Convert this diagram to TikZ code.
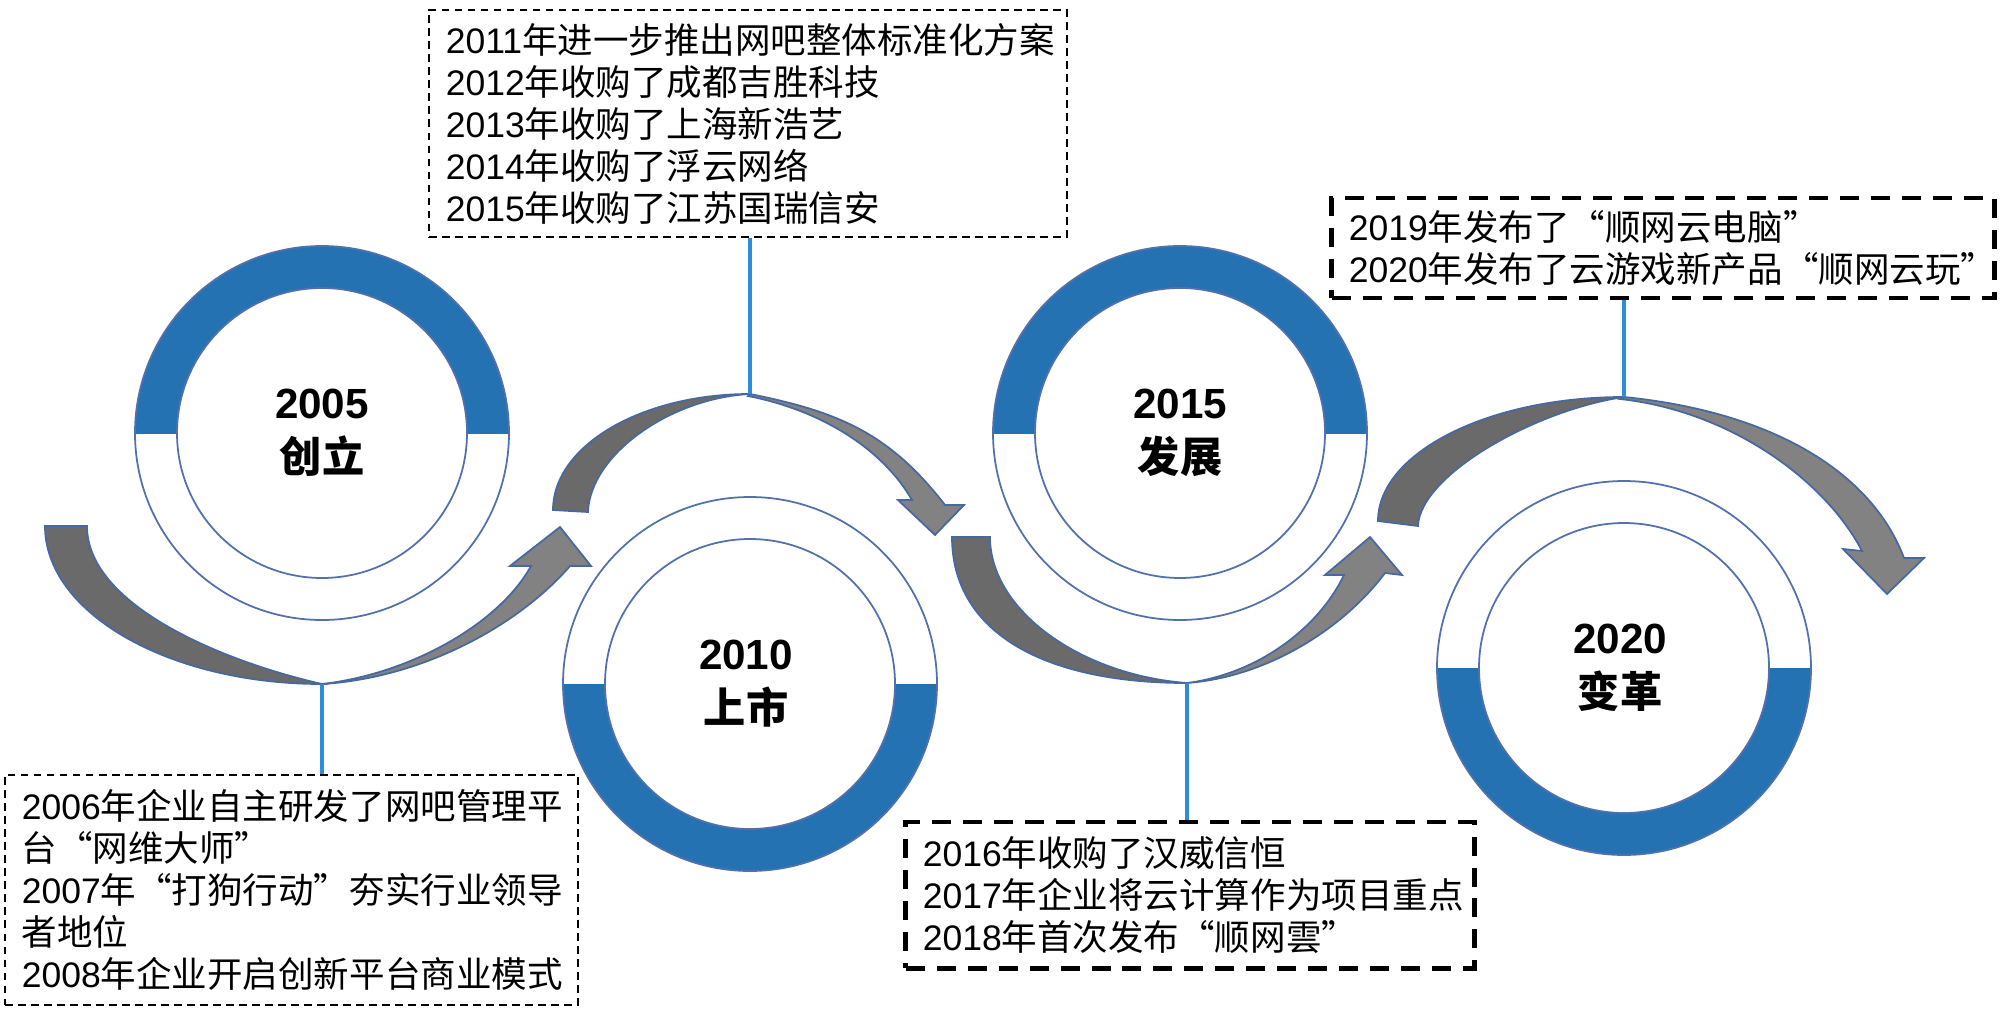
\documentclass[tikz,border=0pt]{standalone}
\usepackage{fontspec}
\setmainfont{Noto Sans CJK SC}
\newfontfamily\lat{Liberation Sans}
\newcommand\ynum[1]{{\lat #1}}
\definecolor{ringblue}{RGB}{36,114,178}
\definecolor{ringline}{RGB}{82,112,172}
\definecolor{arrdark}{RGB}{106,106,106}
\definecolor{arrlight}{RGB}{130,130,130}
\definecolor{arrline}{RGB}{72,104,160}
\definecolor{connblue}{RGB}{44,142,218}
\newcommand\halfring[3]{%
  \fill[white] (#1,#2) circle[radius=187];
  \begin{scope}
    \clip (#1-200,#2) rectangle (#1+200,{#2+(#3)});
    \fill[ringblue, even odd rule] (#1,#2) circle[radius=187] (#1,#2) circle[radius=145];
  \end{scope}
  \draw[ringedge] (#1,#2) circle[radius=187] (#1,#2) circle[radius=145];
}
\begin{document}
\begin{tikzpicture}[x=0.01cm,y=-0.01cm,
  ringedge/.style={draw=ringline, line width=0.5pt},
  back/.style={fill=arrdark, draw=arrline, line width=0.5pt},
  front/.style={fill=arrlight, draw=arrline, line width=0.5pt},
  conn/.style={draw=connblue, line width=1.25pt},
  thinbox/.style={draw=black, line width=0.45pt, dash pattern=on 2.2pt off 1.5pt,
    inner xsep=0.17cm, inner ysep=0pt, align=left,
    font=\fontsize{10.1pt}{11.95pt}\selectfont},
  thickbox/.style={thinbox, line width=1.4pt, dash pattern=on 5.4pt off 3.4pt},
  yearlbl/.style={font=\fontsize{12pt}{15.4pt}\selectfont\bfseries, align=center, inner sep=0pt}
]
\useasboundingbox (0,0) rectangle (2000,1012);

% rings
\halfring{322}{433}{-200}
\halfring{750}{684}{200}
\halfring{1180}{433}{-200}
\halfring{1624}{668}{200}

\node[yearlbl] (c1) at (322,433) {\ynum{2005}\\创立};
\node[yearlbl] (c2) at (746,684) {\ynum{2010}\\上市};
\node[yearlbl] (c3) at (1180,433) {\ynum{2015}\\发展};
\node[yearlbl] (c4) at (1620,668) {\ynum{2020}\\变革};

% arrow A
\path[back] (45,526) .. controls (45,613) and (169,684) .. (322,684)
   .. controls (225,662) and (87,606) .. (87,526) -- cycle;
\path[front] (322,684) .. controls (422,678) and (518,626) .. (570,566)
   -- (591,566) -- (560,527) -- (510,566) -- (531,566)
   .. controls (499,624) and (410,674) .. (322,684) -- cycle;
% arrow B
\path[back] (553,510) .. controls (553,446) and (641,394) .. (750,394)
   .. controls (670,398) and (590,455) .. (588,512) -- cycle;
\path[front] (750,394) .. controls (840,412) and (890,434) .. (945,505)
   -- (964,505) -- (935,535) -- (898,500) -- (912,500)
   .. controls (882,448) and (820,410) .. (748,396) -- cycle;
% arrow C
\path[back] (952,537) .. controls (952,630) and (1040,683) .. (1187,683)
   .. controls (1080,675) and (990,610) .. (990,537) -- cycle;
\path[front] (1187,683) .. controls (1267,677) and (1343,629) .. (1385,573)
   -- (1402,575) -- (1370,537) -- (1325,575) -- (1344,575)
   .. controls (1318,629) and (1257,674) .. (1187,683) -- cycle;
% arrow D
\path[back] (1378,521) .. controls (1378,453) and (1488,397) .. (1624,397)
   .. controls (1535,410) and (1420,475) .. (1418,526) -- cycle;
\path[front] (1624,397) .. controls (1774,412) and (1872,473) .. (1904,558)
   -- (1924,558) -- (1887,594) -- (1843,549) -- (1862,551)
   .. controls (1825,480) and (1730,411) .. (1620,399) -- cycle;

\coordinate (aA) at (322,684);
\coordinate (aB) at (750,394);
\coordinate (aC) at (1187,683);
\coordinate (aD) at (1624,397);

% boxes
\node[thinbox, text width=6.04cm, minimum height=2.27cm] (tb) at (748,123.5) {%
\ynum{2011}年进一步推出网吧整体标准化方案\\
\ynum{2012}年收购了成都吉胜科技\\
\ynum{2013}年收购了上海新浩艺\\
\ynum{2014}年收购了浮云网络\\
\ynum{2015}年收购了江苏国瑞信安};
\node[thinbox, text width=5.39cm, minimum height=2.30cm] (lb) at (291.5,890) {%
\ynum{2006}年企业自主研发了网吧管理平\\
台“网维大师”\\
\ynum{2007}年“打狗行动”夯实行业领导\\
者地位\\
\ynum{2008}年企业开启创新平台商业模式};
\node[thickbox, text width=5.34cm, minimum height=1.46cm] (mb) at (1190,895) {%
\ynum{2016}年收购了汉威信恒\\
\ynum{2017}年企业将云计算作为项目重点\\
\ynum{2018}年首次发布“顺网雲”};
\node[thickbox, text width=6.28cm, minimum height=1.0cm] (rb) at (1663,248) {%
\ynum{2019}年发布了“顺网云电脑”\\
\ynum{2020}年发布了云游戏新产品“顺网云玩”};

% connectors
\draw[conn] (aA) -- (aA |- lb.north);
\draw[conn] (aB) -- (aB |- tb.south);
\draw[conn] (aC) -- (aC |- mb.north);
\draw[conn] (aD) -- (aD |- rb.south);
\end{tikzpicture}
\end{document}
